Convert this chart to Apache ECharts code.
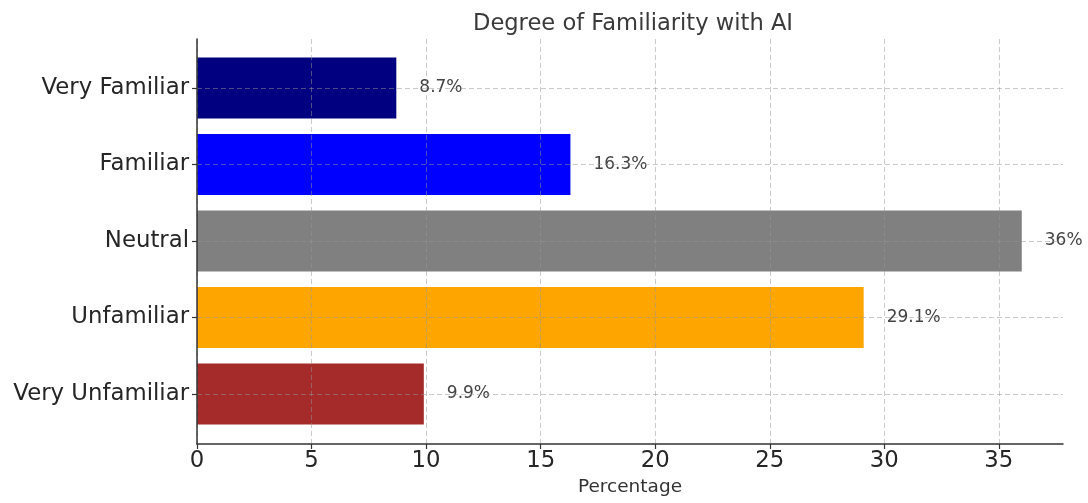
<!DOCTYPE html>
<html>
<head>
<meta charset="utf-8">
<script src="https://cdn.jsdelivr.net/npm/echarts@6/dist/echarts.min.js"></script>
<style>
  html, body { margin: 0; padding: 0; background: #fff; }
  #chart { width: 1088px; height: 503px; }
</style>
</head>
<body>
<div id="chart"></div>
<script>
// Survey answers, listed top to bottom
const categories = ['Very Familiar', 'Familiar', 'Neutral', 'Unfamiliar', 'Very Unfamiliar'];
const percentages = [8.7, 16.3, 36, 29.1, 9.9];
const barColors = ['#000080', '#0000ff', '#808080', '#ffa500', '#a52a2a'];
const xTicks = [0, 5, 10, 15, 20, 25, 30, 35];
const xMax = 37.8;

const FONT = 'DejaVu Sans';
const gridColor = 'rgba(150,150,150,0.5)';

const chart = echarts.init(document.getElementById('chart'), null, { renderer: 'canvas' });

chart.setOption({
  animation: false,
  backgroundColor: '#ffffff',
  title: {
    text: 'Degree of Familiarity with AI',
    left: 628, textAlign: 'center', top: 8,
    textStyle: { fontFamily: FONT, fontSize: 22.6, fontWeight: 'normal', color: '#3a3a3a' }
  },
  grid: [
    // outer frame: x axis, spines, vertical grid lines
    { left: 197, right: 25, top: 39, bottom: 59 },
    // inner band area for the bars
    { left: 197, right: 25, top: 49.75, bottom: 70.75 }
  ],
  xAxis: [
    {
      gridIndex: 0, type: 'value', min: 0, max: xMax, interval: 5, z: 5,
      name: 'Percentage', nameLocation: 'middle', nameGap: 33,
      nameTextStyle: { fontFamily: FONT, fontSize: 18.5, color: '#333' },
      axisLine: { show: true, lineStyle: { color: '#333', width: 1.5 } },
      axisTick: { show: true, length: 5, lineStyle: { color: '#333', width: 1.2 }, customValues: xTicks },
      axisLabel: { fontFamily: FONT, fontSize: 22.8, color: '#262626', margin: 6, customValues: xTicks },
      splitLine: { show: true, lineStyle: { color: gridColor, type: [5, 3], width: 1 } }
    },
    {
      gridIndex: 1, type: 'value', min: 0, max: xMax, show: false
    }
  ],
  yAxis: [
    {
      gridIndex: 0, type: 'value', min: 0, max: 1, z: 5,
      axisLine: { show: true, lineStyle: { color: '#333', width: 1.5 } },
      axisTick: { show: false }, axisLabel: { show: false }, splitLine: { show: false }
    },
    {
      gridIndex: 1, type: 'category', data: categories, inverse: true,
      axisLine: { show: false },
      axisTick: { show: true, alignWithLabel: true, length: 5, lineStyle: { color: '#333', width: 1.2 } },
      axisLabel: { fontFamily: FONT, fontSize: 22.8, color: '#262626', margin: 8 },
      splitLine: { show: false }
    }
  ],
  series: [
    {
      type: 'bar', xAxisIndex: 1, yAxisIndex: 1,
      barWidth: '80%',
      data: percentages.map((v, i) => ({ value: v, itemStyle: { color: barColors[i] } })),
      label: {
        show: true, position: 'right', distance: 23,
        fontFamily: FONT, fontSize: 17, color: '#444',
        formatter: p => p.value + '%'
      },
      markLine: {
        silent: true, symbol: 'none', animation: false,
        label: { show: false },
        lineStyle: { color: gridColor, type: [5, 3], width: 1 },
        data: categories.map((c, i) => ({ yAxis: i }))
      }
    }
  ]
});
</script>
</body>
</html>
